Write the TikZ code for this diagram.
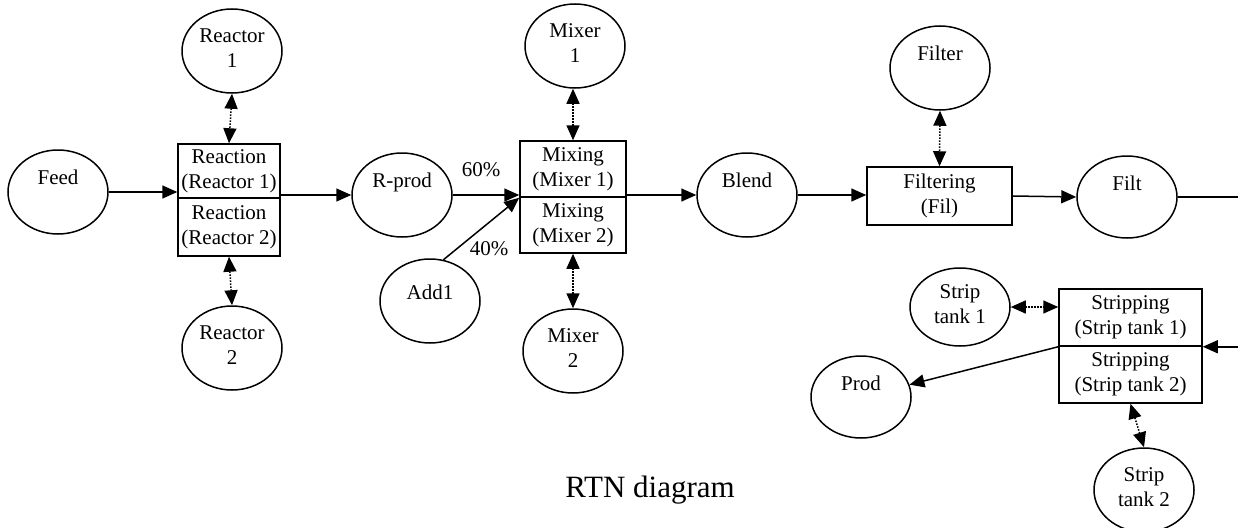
\documentclass[tikz,border=0pt]{standalone}
\usepackage{fontspec}
\setmainfont{Liberation Serif}
\usetikzlibrary{arrows.meta,shapes.geometric}
\begin{document}
\begin{tikzpicture}[x=1pt,y=-1pt,
  res/.style={ellipse,draw,line width=1.5pt,minimum width=100pt,minimum height=84pt,inner sep=0pt},
  lab/.style={anchor=north,inner sep=0pt,align=center,font=\fontsize{21}{25}\selectfont,yshift=-20pt},
  task/.style={rectangle,draw,line width=1.5pt,inner sep=0pt,align=center,font=\fontsize{21}{25}\selectfont},
  flow/.style={line width=1.5pt,-{Triangle[length=15pt,width=13pt]}},
  use/.style={line width=1.5pt,dash pattern=on 1.5pt off 1.5pt,{Triangle[length=15pt,width=13pt]}-{Triangle[length=15pt,width=13pt]}},
  pct/.style={font=\fontsize{21}{25}\selectfont,inner sep=0pt}]
\useasboundingbox (0,0) rectangle (1238,527);
% resources
\node[res,label={[lab]north:Feed}] (feed) at (58,192) {};
\node[res,label={[lab]north:{Reactor\\1}}] (r1) at (232,51) {};
\node[res,label={[lab]north:{Reactor\\2}}] (r2) at (232,348) {};
\node[res,label={[lab]north:R-prod}] (rprod) at (402,195) {};
\node[res,label={[lab,yshift=-6pt]north:Add1}] (add1) at (430,301) {};
\node[res,label={[lab]north:{Mixer\\1}}] (m1) at (575,46) {};
\node[res,label={[lab]north:{Mixer\\2}}] (m2) at (573,351) {};
\node[res,label={[lab]north:Blend}] (blend) at (747,195) {};
\node[res,label={[lab]north:Filter}] (filter) at (940,68) {};
\node[res,minimum height=82pt,label={[lab]north:Filt}] (filt) at (1127,197) {};
\node[res,minimum height=78pt,label={[lab,yshift=3pt]north:{Strip\\tank 1}}] (st1) at (960,307) {};
\node[res,minimum height=82pt,label={[lab]north:Prod}] (prod) at (861,397) {};
\node[res,label={[lab]north:{Strip\\tank 2}}] (st2) at (1144,490) {};
% tasks
\node[task,minimum width=102pt,minimum height=54pt] (rxa) at (229,171) {Reaction\\(Reactor 1)};
\node[task,minimum width=102pt,minimum height=58pt] (rxb) at (229,227) {Reaction\\(Reactor 2)};
\node[task,minimum width=106pt,minimum height=56pt] (mxa) at (573,169) {Mixing\\(Mixer 1)};
\node[task,minimum width=106pt,minimum height=56pt] (mxb) at (573,225) {Mixing\\(Mixer 2)};
\node[task,minimum width=145pt,minimum height=58pt] (fil) at (939.5,196) {Filtering\\(Fil)};
\node[task,minimum width=143pt,minimum height=57pt] (sta) at (1130.5,317.5) {Stripping\\(Strip tank 1)};
\node[task,minimum width=143pt,minimum height=57pt] (stb) at (1130.5,374.5) {Stripping\\(Strip tank 2)};
% labels
\node[pct] (p60) at (481,170) {60\%};
\node[pct] (p40) at (489,249) {40\%};
\node[font=\fontsize{31}{36}\selectfont,anchor=base,inner sep=0pt] (title) at (650,497) {RTN diagram};
% flows
\draw[flow] (feed.east) -- (feed.east -| rxa.west);
\draw[flow] (rxa.east |- rprod.west) -- (rprod.west);
\draw[flow] (rprod.east) -- (rprod.east -| mxa.west);
\draw[flow] (add1.72) -- (mxa.south west);
\draw[flow] (mxa.east |- blend.west) -- (blend.west);
\draw[flow] (blend.east) -- (blend.east -| fil.west);
\draw[flow] (fil.east) -- (filt.west);
\draw[flow] (filt.east) -- ++(80,0) |- (sta.south east);
\draw[flow] (sta.south west) -- (prod);
% equipment use
\draw[use] (r1.south) -- (rxa.north);
\draw[use] (rxb.south) -- (r2.north);
\draw[use] (m1.south -| mxa.north) -- (mxa.north);
\draw[use] (mxb.south) -- (m2.north);
\draw[use] (filter.south) -- (fil.north);
\draw[use] (st1.east) -- (st1.east -| sta.west);
\draw[use] (stb.south) -- (st2.north);
\end{tikzpicture}
\end{document}
